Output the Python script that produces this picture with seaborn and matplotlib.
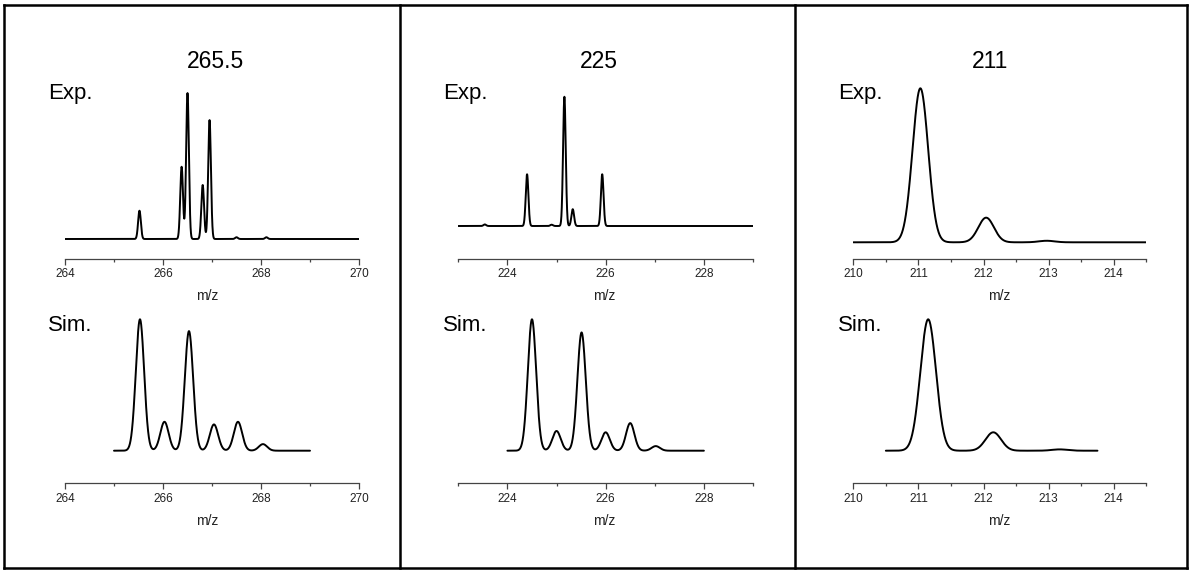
import numpy as np
import pandas as pd
import matplotlib
matplotlib.use("Agg")
import matplotlib.pyplot as plt
import seaborn as sns
from matplotlib.ticker import MultipleLocator
from matplotlib.lines import Line2D

# ---------------- data ----------------
titles = ["265.5", "225", "211"]

# Experimental peak lists (m/z, relative intensity %)
exp1_mz = [265.52, 266.38, 266.50, 266.81, 266.95, 267.50, 268.11]
exp1_int = [19.4, 49.5, 100.0, 37.0, 81.5, 1.2, 1.2]
exp2_mz = [223.54, 224.40, 224.90, 225.16, 225.33, 225.93]
exp2_int = [1.2, 40.0, 1.0, 100.0, 13.0, 40.0]
exp3_mz = [211.03, 212.04, 212.97]
exp3_int = [100.0, 16.0, 1.0]

# Simulated peak lists
sim1_mz = [265.53, 266.03, 266.53, 267.04, 267.53, 268.04]
sim1_int = [100.0, 22.0, 91.0, 20.0, 22.0, 5.0]
sim2_mz = [224.50, 225.00, 225.51, 226.00, 226.50, 227.02]
sim2_int = [100.0, 15.0, 90.0, 14.0, 21.0, 3.5]
sim3_mz = [211.15, 212.15, 213.17]
sim3_int = [100.0, 14.0, 1.0]

# peak widths (sigma, m/z) per spectrum
exp_sigma = [0.028, 0.027, 0.12]
sim_sigma = [0.085, 0.085, 0.12]

# m/z ranges covered by each trace
exp_range = [(264.0, 270.0), (223.0, 229.0), (210.0, 214.5)]
sim_range = [(265.0, 269.0), (224.0, 228.0), (210.5, 213.75)]

# axis limits and tick steps
axis_lim = [(264.0, 270.0), (223.0, 229.0), (210.0, 214.5)]
major_step = [2, 2, 1]
minor_step = [1, 1, 0.5]

# ---------------- style ----------------
sns.set_theme(style="white")
plt.rcParams['font.family'] = ['Liberation Sans', 'DejaVu Sans']

W, H = 1192, 570
fig = plt.figure(figsize=(W / 100, H / 100), dpi=100)


def rect(l, t, r, b):
    return [l / W, 1 - b / H, (r - l) / W, (b - t) / H]


def profile(x, mz, inten, sigma):
    y = np.zeros_like(x)
    for m, a in zip(mz, inten):
        y += a * np.exp(-0.5 * ((x - m) / sigma) ** 2)
    return y


def ylims(top_px, bot_px, base_px, peak_px):
    s = (base_px - peak_px) / 100.0
    return (-(bot_px - base_px) / s, (base_px - top_px) / s)


exp_data = [(exp1_mz, exp1_int), (exp2_mz, exp2_int), (exp3_mz, exp3_int)]
sim_data = [(sim1_mz, sim1_int), (sim2_mz, sim2_int), (sim3_mz, sim3_int)]

# layout (pixels)
ax_px = [(65.0, 359.0), (458.3, 753.0), (853.3, 1146.3)]
exp_box = (80, 258.5)
sim_box = (300, 483.0)
exp_base = [(239.0, 93.0), (226.0, 96.7), (242.3, 88.3)]
sim_base = [(450.7, 319.3)] * 3
title_x = [215, 599, 990]
label_x = [48, 443, 838]
mz_x = [207, 604, 999]


def style_axis(ax, i):
    ax.set_xlim(*axis_lim[i])
    ax.xaxis.set_major_locator(MultipleLocator(major_step[i]))
    ax.xaxis.set_minor_locator(MultipleLocator(minor_step[i]))
    for sp in ["top", "left", "right"]:
        ax.spines[sp].set_visible(False)
    ax.spines["bottom"].set_color("#444444")
    ax.spines["bottom"].set_linewidth(0.9)
    ax.tick_params(axis="x", which="major", direction="out", length=4, width=0.9,
                   color="#444444", labelsize=8.5, pad=3, bottom=True,
                   labelcolor="#222222")
    ax.tick_params(axis="x", which="minor", direction="out", length=2, width=0.9,
                   color="#444444", bottom=True)
    ax.set_yticks([])
    ax.set_xlabel("")
    ax.set_ylabel("")
    ax.patch.set_alpha(0)


for i in range(3):
    l, r = ax_px[i]
    # experimental
    ax = fig.add_axes(rect(l, exp_box[0], r, exp_box[1]))
    x = np.linspace(exp_range[i][0], exp_range[i][1], 3000)
    df = pd.DataFrame({"mz": x, "I": profile(x, *exp_data[i], exp_sigma[i])})
    sns.lineplot(data=df, x="mz", y="I", ax=ax, color="black", linewidth=1.4)
    ax.set_ylim(*ylims(exp_box[0], exp_box[1], *exp_base[i]))
    style_axis(ax, i)

    # simulated
    ax2 = fig.add_axes(rect(l, sim_box[0], r, sim_box[1]))
    x = np.linspace(sim_range[i][0], sim_range[i][1], 3000)
    df = pd.DataFrame({"mz": x, "I": profile(x, *sim_data[i], sim_sigma[i])})
    sns.lineplot(data=df, x="mz", y="I", ax=ax2, color="black", linewidth=1.4)
    ax2.set_ylim(*ylims(sim_box[0], sim_box[1], *sim_base[i]))
    style_axis(ax2, i)

    # texts
    fig.text(title_x[i] / W, 1 - 68 / H, titles[i], ha="center", va="baseline",
             fontsize=16.5, color="black")
    fig.text(label_x[i] / W, 1 - 98.5 / H, "Exp.", ha="left", va="baseline",
             fontsize=16, color="black")
    fig.text(label_x[i] / W, 1 - 331 / H, "Sim.", ha="left", va="baseline",
             fontsize=16, color="black")
    fig.text(mz_x[i] / W, 1 - 296 / H, "m/z", ha="center", va="center",
             fontsize=10, color="#222222")
    fig.text(mz_x[i] / W, 1 - 521 / H, "m/z", ha="center", va="center",
             fontsize=10, color="#222222")

# frame and dividers
lw = 1.8
for xs, ys in [((4, 4), (5, 568)), ((1187, 1187), (5, 568)),
               ((4, 1187), (5, 5)), ((4, 1187), (568, 568)),
               ((399.5, 399.5), (5, 568)), ((795, 795), (5, 568))]:
    fig.add_artist(Line2D([xs[0] / W, xs[1] / W], [1 - ys[0] / H, 1 - ys[1] / H],
                          transform=fig.transFigure, color="black", linewidth=lw,
                          solid_capstyle="projecting"))

fig.savefig("out.png", dpi=100, facecolor="white")
